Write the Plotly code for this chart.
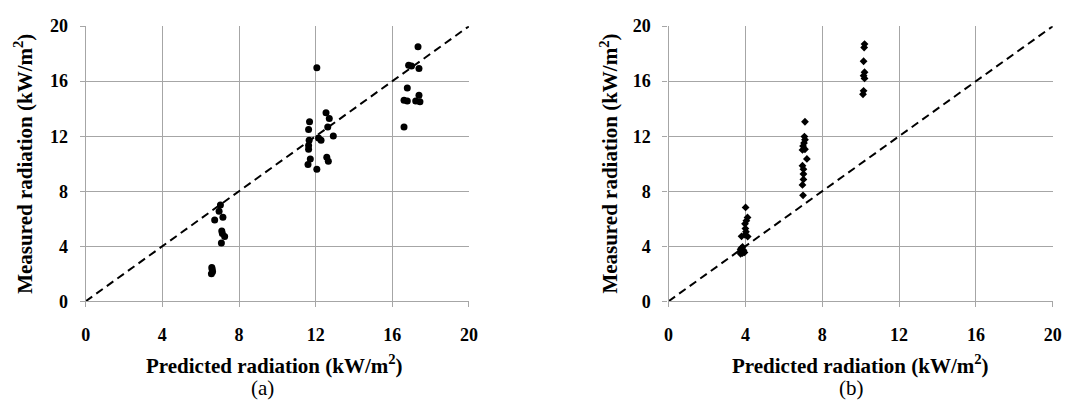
import plotly.graph_objects as go

# Panel (a): predicted vs measured radiation, circles
pred_a = [6.58, 6.60, 6.62, 6.56,
          7.03, 6.96, 7.16, 6.73, 7.10, 7.13, 7.25, 7.08,
          12.06, 12.54, 12.71, 11.68, 11.63, 12.63, 12.92, 12.15, 12.28,
          11.66, 11.63, 11.63, 11.72, 11.60, 12.58, 12.66, 12.06,
          17.34, 16.85, 17.00, 17.39, 16.78, 16.61, 16.78, 17.39, 17.22, 17.44, 16.61]
meas_a = [2.45, 2.30, 2.15, 2.00,
          7.00, 6.55, 6.10, 5.90, 5.10, 4.93, 4.70, 4.24,
          16.98, 13.70, 13.29, 13.05, 12.48, 12.66, 12.02, 11.86, 11.70,
          11.70, 11.32, 11.05, 10.35, 9.94, 10.47, 10.17, 9.59,
          18.50, 17.16, 17.10, 16.93, 15.50, 14.62, 14.55, 14.97, 14.55, 14.50, 12.66]

# Panel (b): predicted vs measured radiation, diamonds
pred_b = [4.01, 4.11, 4.05, 3.98, 4.00, 4.03, 3.98, 4.12, 3.80,
          3.85, 3.78, 3.75, 3.90, 3.80, 3.85, 3.75, 3.95,
          7.10, 7.07, 7.10, 7.05, 7.00, 7.10, 6.97, 7.20, 6.97, 7.02, 7.02, 7.02, 6.97, 7.00,
          10.20, 10.18, 10.15, 10.20, 10.15, 10.20, 10.15, 10.12]
meas_b = [6.82, 6.09, 5.86, 5.63, 5.28, 5.05, 4.82, 4.70, 4.72,
          3.95, 3.85, 3.75, 3.70, 3.60, 3.50, 3.45, 3.55,
          13.05, 11.97, 11.74, 11.50, 11.28, 11.05, 11.00, 10.35, 9.85, 9.60, 9.25, 8.86, 8.46, 7.70,
          18.70, 18.45, 17.45, 16.65, 16.40, 16.20, 15.30, 15.05]

ticks = [0, 4, 8, 12, 16, 20]
tick_text = [f"<b>{t}</b>" for t in ticks]
ref_line = [0, 20]

W, H = 1073, 407
GRID = "#a6a6a6"
FONT = "Liberation Serif"

fig = go.Figure()

fig.add_trace(go.Scatter(x=ref_line, y=ref_line, mode="lines",
                         line=dict(color="black", width=2, dash="8px,5px"),
                         xaxis="x", yaxis="y", showlegend=False))
fig.add_trace(go.Scatter(x=pred_a, y=meas_a, mode="markers",
                         marker=dict(symbol="circle", size=7, color="black"),
                         xaxis="x", yaxis="y", showlegend=False))
fig.add_trace(go.Scatter(x=ref_line, y=ref_line, mode="lines",
                         line=dict(color="black", width=2, dash="8px,5px"),
                         xaxis="x2", yaxis="y2", showlegend=False))
fig.add_trace(go.Scatter(x=pred_b, y=meas_b, mode="markers",
                         marker=dict(symbol="diamond", size=6, color="black"),
                         xaxis="x2", yaxis="y2", showlegend=False))

y_dom = [1 - 306.3 / H, 1 - 17 / H]
xa_dom = [82.7 / W, 470.7 / W]
xb_dom = [672.7 / W, 1061.7 / W]

tickfont = dict(family=FONT, size=18, color="black")

def axis(domain, anchor, standoff):
    return dict(domain=domain, anchor=anchor, range=[0, 20],
                tickvals=ticks, ticktext=tick_text,
                showgrid=True, gridcolor=GRID, gridwidth=1.3,
                showline=True, linecolor=GRID, linewidth=1.3,
                ticks="outside", ticklen=5, tickcolor=GRID, tickwidth=1.3,
                ticklabelstandoff=standoff, tickfont=tickfont, zeroline=False,
                fixedrange=True)

fig.update_layout(
    width=W, height=H,
    margin=dict(l=0, r=0, t=0, b=0),
    paper_bgcolor="white", plot_bgcolor="white",
    font=dict(family=FONT, color="black"),
    xaxis=axis(xa_dom, "y", 12),
    yaxis=axis(y_dom, "x", 8),
    xaxis2=axis(xb_dom, "y2", 12),
    yaxis2=axis(y_dom, "x2", 8),
)

title_font = dict(family=FONT, size=21, color="black")
label_font = dict(family=FONT, size=21, color="black")
xt = "<b>Predicted radiation (kW/m<sup>2</sup>)</b>"
yt = "<b>Measured radiation (kW/m<sup>2</sup>)</b>"

for cx, tx, yx, tag in [(274, 262, 19, "(a)"), (867, 858, 612, "(b)")]:
    fig.add_annotation(text=xt, x=cx / W, y=1 - 373 / H, xref="paper", yref="paper",
                       showarrow=False, font=title_font, xanchor="center", yanchor="middle")
    fig.add_annotation(text=tag, x=tx / W, y=1 - 398 / H, xref="paper", yref="paper",
                       showarrow=False, font=label_font, xanchor="center", yanchor="middle")
    fig.add_annotation(text=yt, x=yx / W, y=1 - 162 / H, xref="paper", yref="paper",
                       showarrow=False, font=title_font, textangle=-90,
                       xanchor="center", yanchor="middle")

fig.write_html("out.html")
